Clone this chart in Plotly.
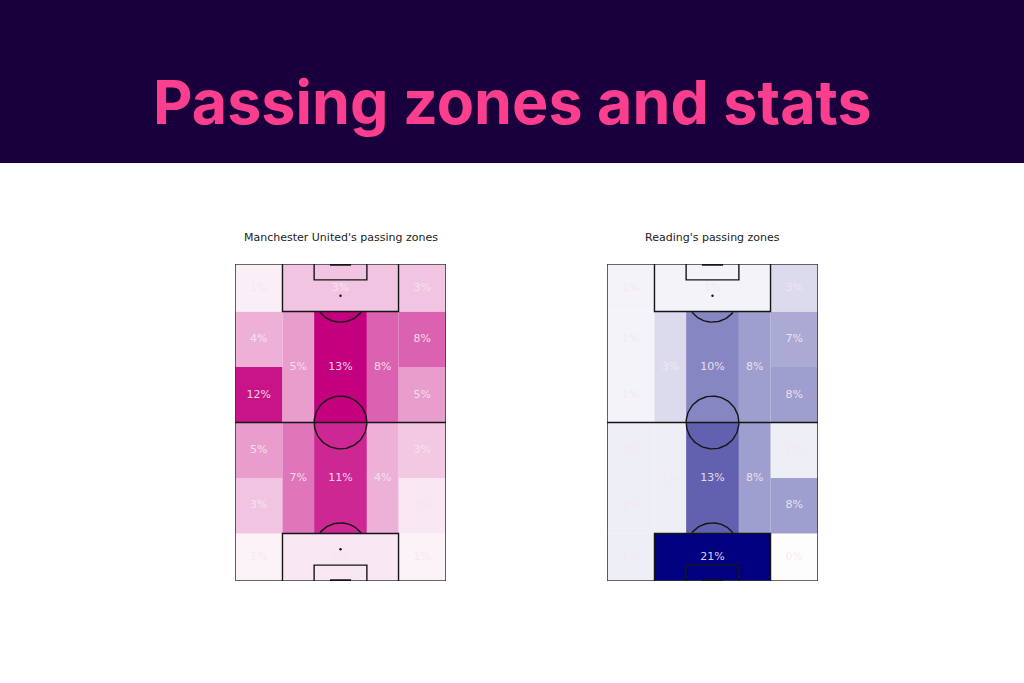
import numpy as np
import plotly.graph_objects as go
from plotly.colors import sample_colorscale

# ---------------- data (percent of passes per zone) ----------------
# wing lanes listed from own goal (bottom) to opponent goal (top)
mu_left_wing = [0.6, 3.0, 5.0, 12.0, 4.0, 0.8]
mu_right_wing = [0.6, 1.2, 2.8, 5.0, 8.0, 3.0]
mu_left_half = [7.0, 5.0]     # own half, opponent half
mu_centre = [11.0, 13.0]
mu_right_half = [4.0, 8.0]
mu_box = [1.2, 3.0]           # own box, opponent box

rd_left_wing = [1.4, 1.4, 1.4, 1.0, 1.0, 1.0]
rd_right_wing = [0.2, 8.0, 1.4, 8.0, 7.0, 3.0]
rd_left_half = [1.4, 3.0]
rd_centre = [13.0, 10.0]
rd_right_half = [8.0, 8.0]
rd_box = [21.0, 1.0]

titles = ["Manchester United's passing zones", "Reading's passing zones"]
team_colors = ["#c3007e", "#000080"]
main_title = "Passing zones and stats"

# ---------------- pitch geometry (StatsBomb 120 x 80) ----------------
LEN, WID = 120, 80
LEN_EDGES = [0, 18, 39, 60, 81, 102, 120]
WID_EDGES = [0, 18, 30, 50, 62, 80]


def zones(lw, rw, lh, ce, rh, bx):
    out = []
    for i in range(6):
        out.append((WID_EDGES[0], WID_EDGES[1], LEN_EDGES[i], LEN_EDGES[i + 1], lw[i]))
        out.append((WID_EDGES[4], WID_EDGES[5], LEN_EDGES[i], LEN_EDGES[i + 1], rw[i]))
    for k, (a, b) in enumerate([(18, 60), (60, 102)]):
        out.append((WID_EDGES[1], WID_EDGES[2], a, b, lh[k]))
        out.append((WID_EDGES[2], WID_EDGES[3], a, b, ce[k]))
        out.append((WID_EDGES[3], WID_EDGES[4], a, b, rh[k]))
    out.append((18, 62, 0, 18, bx[0]))
    out.append((18, 62, 102, 120, bx[1]))
    return out


teams = [
    zones(mu_left_wing, mu_right_wing, mu_left_half, mu_centre, mu_right_half, mu_box),
    zones(rd_left_wing, rd_right_wing, rd_left_half, rd_centre, rd_right_half, rd_box),
]

W, H = 1024, 683
domains_x = [(235 / W, 446 / W), (607 / W, 818 / W)]
domain_y = ((H - 581) / H, (H - 264) / H)

fig = go.Figure()
LINE = dict(color="#151515", width=1.4)

for t, zl in enumerate(teams):
    xa = "x" if t == 0 else "x2"
    ya = "y" if t == 0 else "y2"
    vmax = max(z[4] for z in zl)
    cs = [[0, "#ffffff"], [1, team_colors[t]]]
    tx, ty, tt = [], [], []
    for (x0, x1, y0, y1, v) in zl:
        col = sample_colorscale(cs, [v / vmax])[0]
        fig.add_trace(go.Scatter(
            x=[x0, x1, x1, x0, x0], y=[y0, y0, y1, y1, y0], mode="lines",
            fill="toself", fillcolor=col, line=dict(width=0),
            hoverinfo="skip", showlegend=False, xaxis=xa, yaxis=ya))
        tx.append((x0 + x1) / 2)
        ty.append((y0 + y1) / 2)
        tt.append(f"{round(v)}%")

    def line(xs, ys, width=None, color=None):
        ln = dict(LINE)
        if width:
            ln["width"] = width
        if color:
            ln["color"] = color
        fig.add_trace(go.Scatter(x=xs, y=ys, mode="lines", line=ln, hoverinfo="skip",
                                 showlegend=False, xaxis=xa, yaxis=ya, cliponaxis=False))

    # outline and halfway line
    line([0, WID, WID, 0, 0], [0, 0, LEN, LEN, 0], width=1.6, color="#3a3a3a")
    line([0, WID], [60, 60])
    # penalty and six-yard boxes
    line([18, 18, 62, 62], [0, 18, 18, 0])
    line([18, 18, 62, 62], [120, 102, 102, 120])
    line([30, 30, 50, 50], [0, 6, 6, 0])
    line([30, 30, 50, 50], [120, 114, 114, 120])
    # centre circle
    th = np.linspace(0, 2 * np.pi, 121)
    line(list(40 + 10 * np.cos(th)), list(60 + 10 * np.sin(th)))
    # penalty arcs
    ax_ = 40 + 10 * np.cos(th)
    ay_top = 108 + 10 * np.sin(th)
    m = ay_top < 102
    line(list(ax_[m]), list(ay_top[m]))
    ay_bot = 12 + 10 * np.sin(th)
    m = ay_bot > 18
    line(list(ax_[m]), list(ay_bot[m]))
    # goals
    line([36, 44], [120, 120], width=3.5)
    line([36, 44], [0, 0], width=3.5)
    # spots
    fig.add_trace(go.Scatter(x=[40, 40], y=[108, 12], mode="markers",
                             marker=dict(size=2.5, color="#151515"), hoverinfo="skip",
                             showlegend=False, xaxis=xa, yaxis=ya))
    # labels
    fig.add_trace(go.Scatter(x=tx, y=ty, text=tt, mode="text",
                             textfont=dict(family="DejaVu Sans", size=11,
                                           color="rgba(246,230,241,0.92)"),
                             hoverinfo="skip", showlegend=False, xaxis=xa, yaxis=ya))

    fig.add_annotation(x=(domains_x[t][0] + domains_x[t][1]) / 2, y=(H - 237) / H,
                       xref="paper", yref="paper", text=titles[t], showarrow=False,
                       font=dict(family="DejaVu Sans", size=11, color="#222222"),
                       xanchor="center", yanchor="middle")

axis_common = dict(showgrid=False, zeroline=False, showticklabels=False, ticks="",
                   showline=False, fixedrange=True)
fig.update_layout(
    width=W, height=H, margin=dict(l=0, r=0, t=0, b=0),
    paper_bgcolor="white", plot_bgcolor="rgba(0,0,0,0)",
    xaxis=dict(domain=domains_x[0], range=[0, WID], **axis_common),
    yaxis=dict(domain=domain_y, range=[0, LEN], **axis_common),
    xaxis2=dict(domain=domains_x[1], range=[0, WID], **axis_common),
    yaxis2=dict(domain=domain_y, range=[0, LEN], **axis_common),
)

fig.add_shape(type="rect", xref="paper", yref="paper", x0=0, x1=1,
              y0=(H - 163) / H, y1=1, fillcolor="#19003c", line=dict(width=0), layer="below")
fig.add_annotation(x=0.5, y=(H - 102) / H, xref="paper", yref="paper", text=f"<b>{main_title}</b>",
                   showarrow=False, font=dict(family="Inter", size=61, color="#fc3e8f"),
                   xanchor="center", yanchor="middle")

fig.write_html("out.html", config={"displayModeBar": False},
               post_script="document.body.style.margin='0';")
